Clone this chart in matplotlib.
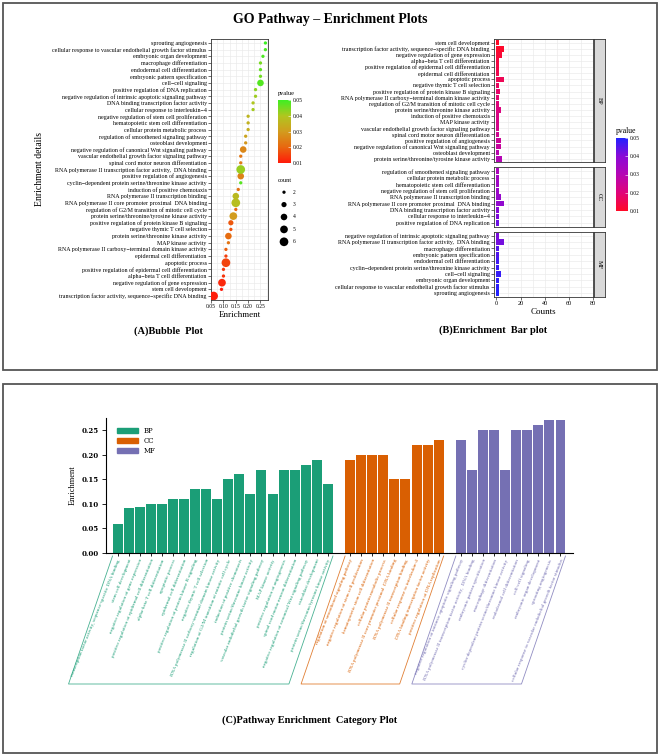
import numpy as np
import matplotlib
matplotlib.use('Agg')
import matplotlib.pyplot as plt
from matplotlib.colors import LinearSegmentedColormap, Normalize
from matplotlib.cm import ScalarMappable
from matplotlib.patches import Rectangle, Patch
from matplotlib.lines import Line2D

plt.rcParams['font.family'] = ['Liberation Serif', 'DejaVu Serif']

# GO terms per category, in the order of the category plot
bp_terms = [
    'transcription factor activity, sequence-specific DNA binding',
    'stem cell development',
    'negative regulation of gene expression',
    'positive regulation of epidermal cell differentiation',
    'alpha-beta T cell differentiation',
    'apoptotic process',
    'epidermal cell differentiation',
    'positive regulation of protein kinase B signaling',
    'negative thymic T cell selection',
    'RNA polymerase II carboxy-terminal domain kinase activity',
    'regulation of G2/M transition of mitotic cell cycle',
    'induction of positive chemotaxis',
    'protein serine/threonine kinase activity',
    'vascular endothelial growth factor signaling pathway',
    'MAP kinase activity',
    'positive regulation of angiogenesis',
    'spinal cord motor neuron differentiation',
    'negative regulation of canonical Wnt signaling pathway',
    'osteoblast development',
    'protein serine/threonine/tyrosine kinase activity',
]
bp_enrichment = [0.06, 0.092, 0.094, 0.10, 0.10, 0.11, 0.11, 0.13, 0.13, 0.11,
                 0.15, 0.16, 0.12, 0.17, 0.12, 0.17, 0.17, 0.18, 0.19, 0.14]
bp_pvalue = [0.0105, 0.0100, 0.0120, 0.0140, 0.0135, 0.0155, 0.0150, 0.0180, 0.0170, 0.0190,
             0.0200, 0.0220, 0.0210, 0.0230, 0.0225, 0.0250, 0.0240, 0.0260, 0.0290, 0.0300]
bp_count = [6, 2, 5, 2, 2, 6, 2, 3, 2, 2, 2, 2, 4, 2, 2, 4, 2, 4, 2, 5]

cc_terms = [
    'regulation of smoothened signaling pathway',
    'negative regulation of stem cell proliferation',
    'hematopoietic stem cell differentiation',
    'cellular protein metabolic process',
    'RNA polymerase II core promoter proximal  DNA binding',
    'RNA polymerase II transcription binding',
    'cellular response to interleukin-4',
    'DNA binding transcription factor activity',
    'positive regulation of DNA replication',
]
cc_enrichment = [0.19, 0.20, 0.20, 0.20, 0.15, 0.15, 0.22, 0.22, 0.23]
cc_pvalue = [0.032, 0.036, 0.035, 0.034, 0.038, 0.037, 0.041, 0.040, 0.043]
cc_count = [2, 2, 2, 2, 6, 4, 2, 2, 2]

mf_terms = [
    'negative regulation of intrinsic apoptotic signaling pathway',
    'RNA polymerase II transcription factor activity,  DNA binding',
    'embryonic pattern specification',
    'macrophage differentiation',
    'cyclin-dependent protein serine/threonine kinase activity',
    'endodermal cell differentiation',
    'cell-cell signaling',
    'embryonic organ development',
    'sprouting angiogenesis',
    'cellular response to vascular endothelial growth factor stimulus',
]
mf_enrichment = [0.23, 0.17, 0.25, 0.25, 0.17, 0.25, 0.25, 0.26, 0.27, 0.27]
mf_pvalue = [0.0415, 0.0420, 0.0455, 0.0450, 0.0475, 0.0470, 0.0480, 0.0485, 0.0500, 0.0490]
mf_count = [2, 6, 2, 2, 2, 2, 4, 2, 2, 2]

# row order of the bubble plot, bottom to top
bubble_order = [
    'transcription factor activity, sequence-specific DNA binding',
    'stem cell development',
    'negative regulation of gene expression',
    'alpha-beta T cell differentiation',
    'positive regulation of epidermal cell differentiation',
    'apoptotic process',
    'epidermal cell differentiation',
    'RNA polymerase II carboxy-terminal domain kinase activity',
    'MAP kinase activity',
    'protein serine/threonine kinase activity',
    'negative thymic T cell selection',
    'positive regulation of protein kinase B signaling',
    'protein serine/threonine/tyrosine kinase activity',
    'regulation of G2/M transition of mitotic cell cycle',
    'RNA polymerase II core promoter proximal  DNA binding',
    'RNA polymerase II transcription binding',
    'induction of positive chemotaxis',
    'cyclin-dependent protein serine/threonine kinase activity',
    'positive regulation of angiogenesis',
    'RNA polymerase II transcription factor activity,  DNA binding',
    'spinal cord motor neuron differentiation',
    'vascular endothelial growth factor signaling pathway',
    'negative regulation of canonical Wnt signaling pathway',
    'osteoblast development',
    'regulation of smoothened signaling pathway',
    'cellular protein metabolic process',
    'hematopoietic stem cell differentiation',
    'negative regulation of stem cell proliferation',
    'cellular response to interleukin-4',
    'DNA binding transcription factor activity',
    'negative regulation of intrinsic apoptotic signaling pathway',
    'positive regulation of DNA replication',
    'cell-cell signaling',
    'embryonic pattern specification',
    'endodermal cell differentiation',
    'macrophage differentiation',
    'embryonic organ development',
    'cellular response to vascular endothelial growth factor stimulus',
    'sprouting angiogenesis',
]

categories = ['BP', 'CC', 'MF']
cat_colors = ['#1b9e77', '#d95f02', '#7570b3']
count_levels = [2, 3, 4, 5, 6]
pvalue_ticks = [0.01, 0.02, 0.03, 0.04, 0.05]

terms = bp_terms + cc_terms + mf_terms
enrichment = np.array(bp_enrichment + cc_enrichment + mf_enrichment)
pvalue = np.array(bp_pvalue + cc_pvalue + mf_pvalue)
count = np.array(bp_count + cc_count + mf_count)
group = ['BP'] * len(bp_terms) + ['CC'] * len(cc_terms) + ['MF'] * len(mf_terms)
lookup = {t: i for i, t in enumerate(terms)}

W, H = 661, 756
fig = plt.figure(figsize=(W / 100, H / 100), dpi=100)


def box(x, y, w, h):
    # pixel box measured from the top-left -> figure fraction
    return [x / W, 1 - (y + h) / H, w / W, h / H]


def minus(s):
    # the R-made panels print hyphens as minus signs
    return s.replace('-', '\u2212')


def dot_size(c):
    return 5.6 + 8.4 * (np.asarray(c, float) - 2)


def style_gg(ax):
    ax.grid(True, which='both', color='#ebebeb', lw=0.5)
    ax.set_axisbelow(True)
    ax.tick_params(length=2, width=0.5, pad=1, color='#333333')
    ax.tick_params(which='minor', length=0)
    for s in ax.spines.values():
        s.set_color('#333333')
        s.set_linewidth(0.6)


norm = Normalize(0.01, 0.05)
bubble_cmap = LinearSegmentedColormap.from_list(
    'rg', ['#ff1a0a', '#e8670f', '#d29c1e', '#b0c61f', '#3def22'])
bar_cmap = LinearSegmentedColormap.from_list(
    'rb', ['#ff0a28', '#e0047a', '#b506b4', '#8a0ad6', '#2222ff'])

# outer frames and title
for y0, y1 in [(3, 370), (384, 753)]:
    fig.add_artist(Rectangle((3 / W, 1 - y1 / H), 654 / W, (y1 - y0) / H,
                             transform=fig.transFigure, fill=False,
                             ec='#555555', lw=1.3))
fig.text(0.5, 1 - 19 / H, 'GO Pathway \u2013 Enrichment Plots', ha='center',
         va='center', fontsize=10, fontweight='bold')

# ---------------- (A) bubble plot ----------------
ax = fig.add_axes(box(211, 39, 57, 261))
idx = [lookup[t] for t in bubble_order]
ys = np.arange(len(idx))
ax.scatter(enrichment[idx], ys, s=dot_size(count[idx]), c=pvalue[idx],
           cmap=bubble_cmap, norm=norm, edgecolors='none', zorder=3)
ax.set_ylim(-0.6, len(idx) - 0.4)
ax.set_xlim(0.0495, 0.2805)
ax.set_yticks(ys)
ax.set_yticklabels([minus(t) for t in bubble_order], fontsize=4.3)
ax.set_xticks([0.05, 0.10, 0.15, 0.20, 0.25])
ax.set_xticklabels(['0.05', '0.10', '0.15', '0.20', '0.25'], fontsize=4)
ax.set_xticks([0.075, 0.125, 0.175, 0.225, 0.275], minor=True)
style_gg(ax)
ax.set_xlabel('Enrichment', fontsize=6.5, labelpad=1.5)
ax.set_ylabel('Enrichment details', fontsize=7)
ax.yaxis.set_label_coords((44 - 211) / 57, 0.5)

cax = fig.add_axes(box(278, 100, 13, 63))
cb = fig.colorbar(ScalarMappable(norm=norm, cmap=bubble_cmap), cax=cax, ticks=pvalue_ticks)
cb.outline.set_visible(False)
cax.set_yticklabels(['0.01', '0.02', '0.03', '0.04', '0.05'])
cax.tick_params(labelsize=4, length=2, width=0.4, color='white', direction='in', pad=1.5)
fig.text(278 / W, 1 - 94 / H, 'pvalue', fontsize=4.5, ha='left', va='center')

lax = fig.add_axes(box(276, 186, 25, 62))
lax.scatter(np.zeros(len(count_levels)), count_levels, s=dot_size(count_levels),
            c='black', edgecolors='none')
lax.set_xlim(-1, 2.125)
lax.set_ylim(6.5, 1.5)
for c in count_levels:
    lax.text(1.1, c, str(c), fontsize=4, va='center')
lax.axis('off')
fig.text(278 / W, 1 - 181 / H, 'count', fontsize=4.5, ha='left', va='center')

fig.text(168 / W, 1 - 331 / H, '(A)Bubble  Plot', ha='center', va='center',
         fontsize=7.5, fontweight='bold')

# ---------------- (B) faceted bar plot ----------------
gap = 5
rows = [len(bp_terms), len(cc_terms), len(mf_terms)]
unit = (297 - 39 - 2 * gap) / sum(n + 1.2 for n in rows)
top = 39
for k, cat in enumerate(categories):
    sel = sorted([i for i in range(len(terms)) if group[i] == cat], key=lambda i: pvalue[i])
    h = (len(sel) + 1.2) * unit
    axb = fig.add_axes(box(494, top, 99, h))
    yy = np.arange(len(sel))
    axb.barh(yy, count[sel], height=0.9, color=bar_cmap(norm(pvalue[sel])), zorder=3)
    axb.set_ylim(len(sel) - 0.4, -0.6)
    axb.set_xlim(-2, 80)
    axb.set_yticks(yy)
    axb.set_yticklabels([minus(terms[i]) for i in sel], fontsize=4.3)
    axb.set_xticks([0, 20, 40, 60, 80])
    axb.set_xticks([10, 30, 50, 70], minor=True)
    style_gg(axb)
    if k < 2:
        axb.tick_params(axis='x', labelbottom=False, bottom=False)
    else:
        axb.tick_params(axis='x', labelsize=4.5)
        axb.set_xlabel('Counts', fontsize=6.5, labelpad=1)
    strip = fig.add_axes(box(594, top, 11, h))
    strip.set_facecolor('#d9d9d9')
    strip.set_xticks([])
    strip.set_yticks([])
    for s in strip.spines.values():
        s.set_color('#333333')
        s.set_linewidth(0.6)
    strip.text(0.5, 0.5, cat, rotation=-90, ha='center', va='center',
               fontsize=4.5, transform=strip.transAxes)
    top += h + gap

cax2 = fig.add_axes(box(616, 138, 12, 73))
cb2 = fig.colorbar(ScalarMappable(norm=norm, cmap=bar_cmap), cax=cax2, ticks=pvalue_ticks)
cb2.outline.set_visible(False)
cax2.set_yticklabels(['0.01', '0.02', '0.03', '0.04', '0.05'])
cax2.tick_params(labelsize=4, length=2, width=0.4, color='white', direction='in', pad=1.5)
fig.text(616 / W, 1 - 131 / H, 'pvalue', fontsize=5.5, ha='left', va='center')

fig.text(493 / W, 1 - 330 / H, '(B)Enrichment  Bar plot', ha='center', va='center',
         fontsize=7.5, fontweight='bold')

# ---------------- (C) category bar plot ----------------
axc = fig.add_axes(box(106, 418, 467, 135))
pos = []
start = 0
for n in rows:
    pos.extend(range(start, start + n))
    start += n + 1
pos = np.array(pos)
bar_w = 0.9
colors = [cat_colors[categories.index(g)] for g in group]
axc.bar(pos, enrichment, width=bar_w, color=colors, zorder=2)
axc.set_xlim(pos[0] - 1.04, pos[-1] + 1.13)
axc.set_ylim(0, 0.275)
axc.set_yticks([0.00, 0.05, 0.10, 0.15, 0.20, 0.25])
axc.set_yticklabels(['0.00', '0.05', '0.10', '0.15', '0.20', '0.25'],
                    fontsize=5, family='DejaVu Serif', fontweight='bold')
axc.set_xticks(pos)
axc.set_xticklabels(terms, rotation=68, ha='right', va='top',
                    rotation_mode='anchor', fontsize=3.7)
for lbl, col in zip(axc.get_xticklabels(), colors):
    lbl.set_color(col)
axc.tick_params(axis='x', length=2.5, width=0.6, pad=1.5)
axc.tick_params(axis='y', length=3, width=0.6, pad=2)
axc.spines['top'].set_visible(False)
axc.spines['right'].set_visible(False)
axc.spines['left'].set_linewidth(0.8)
axc.spines['bottom'].set_linewidth(0.8)
axc.set_ylabel('Enrichment', fontsize=6)
axc.yaxis.set_label_coords((77 - 106) / 467, 0.5)
handles = [Patch(color=c, label=g) for g, c in zip(categories, cat_colors)]
axc.legend(handles=handles, loc='upper left', bbox_to_anchor=(0.017, 0.96),
           frameon=False, borderpad=0, handlelength=3, handleheight=0.7,
           handletextpad=0.8, labelspacing=0.3,
           prop={'family': 'DejaVu Serif', 'size': 5})

# slanted frames round each group's labels
to_fig = fig.transFigure.inverted()
start = 0
for n, col in zip(rows, cat_colors):
    x0 = pos[start] - bar_w / 2
    x1 = pos[start + n - 1] + bar_w / 2
    (ax0, ay), (ax1, _) = axc.transData.transform([(x0, 0), (x1, 0)])
    ay -= 3
    pts = [(ax0, ay), (ax0 - 44, ay - 128), (ax1 - 44, ay - 128), (ax1, ay)]
    fpts = to_fig.transform(pts)
    fig.add_artist(Line2D(fpts[:, 0], fpts[:, 1], transform=fig.transFigure,
                          color=col, lw=0.6, alpha=0.8))
    start += n

fig.text(310 / W, 1 - 720 / H, '(C)Pathway Enrichment  Category Plot', ha='center',
         va='center', fontsize=7.5, fontweight='bold')

fig.savefig('out.png', dpi=100, facecolor='white')
